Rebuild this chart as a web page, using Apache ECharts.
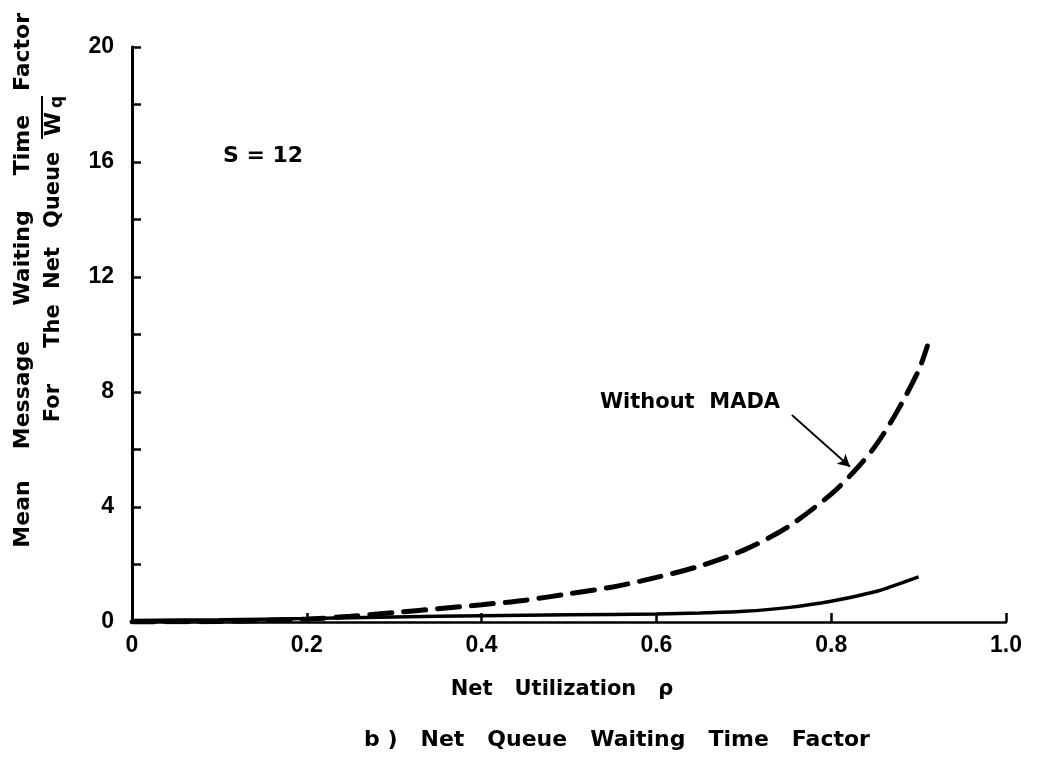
<!DOCTYPE html>
<html>
<head>
<meta charset="utf-8">
<script src="https://cdn.jsdelivr.net/npm/echarts@6/dist/echarts.min.js"></script>
<style>
  html, body { margin: 0; padding: 0; background: #fff; }
  #chart { width: 1042px; height: 765px; }
</style>
</head>
<body>
<div id="chart"></div>
<script>
// ---- data ----
const withoutX = [0, 0.1, 0.2, 0.25, 0.3, 0.35, 0.4, 0.45, 0.5, 0.55, 0.6, 0.65, 0.7, 0.75, 0.8, 0.825, 0.85, 0.875, 0.9, 0.91];
const withoutY = [0, 0.02, 0.1, 0.2, 0.33, 0.46, 0.6, 0.76, 0.98, 1.22, 1.55, 1.95, 2.5, 3.3, 4.45, 5.2, 6.1, 7.3, 8.75, 9.6];
const withX = [0, 0.1, 0.2, 0.3, 0.4, 0.5, 0.6, 0.65, 0.7, 0.75, 0.8, 0.85, 0.875, 0.9];
const withY = [0.05, 0.08, 0.12, 0.17, 0.22, 0.25, 0.28, 0.31, 0.37, 0.5, 0.72, 1.05, 1.3, 1.57];
const arrowFrom = [0.755, 7.2];
const arrowTo = [0.8215, 5.4];
const yTitleLine1 = ['Mean', 'Message', 'Waiting', 'Time', 'Factor'];
const yTitleLine2 = ['For', 'The', 'Net', 'Queue'];
const xTitle = 'Net   Utilization   ρ';
const chartTitle = 'b )   Net   Queue   Waiting   Time   Factor';
const noteS = 'S = 12';
const noteCurve = 'Without  MADA';

const FONT = '"DejaVu Sans", sans-serif';
const TICKFONT = '"Liberation Sans", Arial, sans-serif';
const toPairs = (xs, ys) => xs.map((x, i) => [x, ys[i]]);

// word placement for the rotated axis title (pixel centres)
const line1Pos = [514, 395, 258, 145, 52];
const line2Pos = [403, 326, 268, 190];

const graphics = [];
const addText = (text, x, y, size, rot) => graphics.push({
  type: 'text', x: x, y: y, rotation: rot || 0,
  style: { text: text, font: 'bold ' + size + 'px ' + FONT, fill: '#000', align: 'center', verticalAlign: 'middle' }
});
yTitleLine1.forEach((w, i) => addText(w, 23, line1Pos[i], 22, Math.PI / 2));
yTitleLine2.forEach((w, i) => addText(w, 54, line2Pos[i], 21, Math.PI / 2));
addText('W', 54, 124, 22, Math.PI / 2);
addText('q', 58, 102, 17, Math.PI / 2);
graphics.push({
  type: 'line', shape: { x1: 42, y1: 96, x2: 42, y2: 139 },
  style: { stroke: '#000', lineWidth: 2 }
});
addText(xTitle, 562, 690, 21);
addText(chartTitle, 617, 740, 22);
addText(noteS, 263, 156, 22);
addText(noteCurve, 690, 403, 21);

const chart = echarts.init(document.getElementById('chart'), null, { renderer: 'canvas' });
chart.setOption({
  backgroundColor: '#ffffff',
  animation: false,
  grid: { left: 132, right: 36, top: 47, bottom: 143, containLabel: false },
  xAxis: {
    type: 'value', min: 0, max: 1, interval: 0.2,
    axisLine: { show: true, lineStyle: { color: '#000', width: 2.5 } },
    axisTick: { show: true, inside: true, length: 9, lineStyle: { color: '#000', width: 2.5 } },
    axisLabel: {
      color: '#000', fontFamily: TICKFONT, fontWeight: 'bold', fontSize: 23, margin: 12,
      formatter: v => (v === 0 ? '0' : v.toFixed(1))
    },
    splitLine: { show: false }
  },
  yAxis: {
    type: 'value', min: 0, max: 20, interval: 2,
    axisLine: { show: true, lineStyle: { color: '#000', width: 3 } },
    axisTick: { show: true, inside: true, length: 9, lineStyle: { color: '#000', width: 2.5 } },
    axisLabel: {
      color: '#000', fontFamily: TICKFONT, fontWeight: 'bold', fontSize: 23, margin: 18,
      formatter: v => (v % 4 === 0 ? String(v) : '')
    },
    splitLine: { show: false }
  },
  graphic: graphics,
  series: [
    {
      name: 'Without MADA', type: 'line', data: toPairs(withoutX, withoutY),
      smooth: 0.3, showSymbol: false, silent: true,
      lineStyle: { color: '#000', width: 5, type: [22, 12], cap: 'round' },
      markLine: {
        silent: true, symbol: ['none', 'arrow'], symbolSize: [10, 12],
        label: { show: false },
        lineStyle: { color: '#000', width: 1.8, type: 'solid' },
        data: [[{ coord: arrowFrom }, { coord: arrowTo }]]
      }
    },
    {
      name: 'With MADA', type: 'line', data: toPairs(withX, withY),
      smooth: 0.3, showSymbol: false, silent: true,
      lineStyle: { color: '#000', width: 3.5, type: 'solid' }
    }
  ]
});
</script>
</body>
</html>
